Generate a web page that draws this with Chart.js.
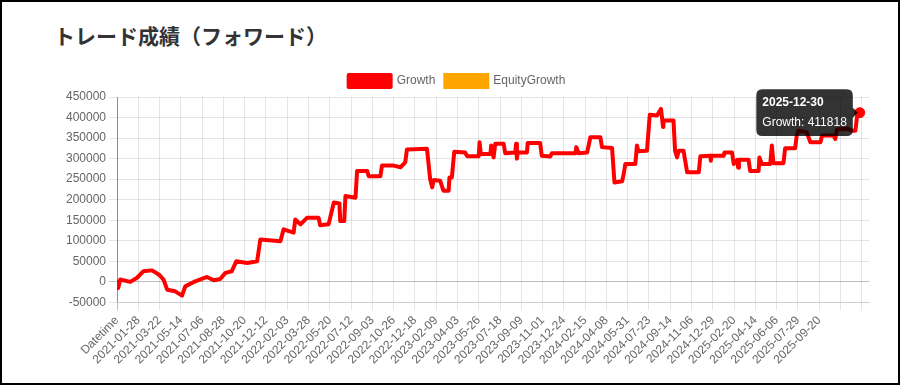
<!DOCTYPE html>
<html lang="ja">
<head>
<meta charset="UTF-8">
<title>トレード成績（フォワード）</title>
<style>
  html, body { margin: 0; padding: 0; background: #fff; }
  .frame {
    position: relative; width: 900px; height: 385px;
    box-sizing: border-box; border: 2px solid #000; overflow: hidden;
  }
  h2 {
    position: absolute; left: 52px; top: 23px; margin: 0;
    font-family: "Noto Sans CJK JP", sans-serif; font-weight: bold;
    font-size: 21px; line-height: 21px; color: #333;
  }
  .chart-box { position: absolute; left: 37px; top: 63px; width: 836px; height: 305px; }
</style>
</head>
<body>
<div class="frame">
  <h2>トレード成績（フォワード）</h2>
  <div class="chart-box"><canvas id="growthChart"></canvas></div>
</div>

<script src="https://cdn.jsdelivr.net/npm/chart.js"></script>
<script>
// x axis: days counted from the 'Datetime' slot (day 0 = 2020-12-06)
const startDate = '2020-12-06';
const tickStep = 53;
const tickLabels = [
  'Datetime', '2021-01-28', '2021-03-22', '2021-05-14', '2021-07-06', '2021-08-28',
  '2021-10-20', '2021-12-12', '2022-02-03', '2022-03-28', '2022-05-20', '2022-07-12',
  '2022-09-03', '2022-10-26', '2022-12-18', '2023-02-09', '2023-04-03', '2023-05-26',
  '2023-07-18', '2023-09-09', '2023-11-01', '2023-12-24', '2024-02-15', '2024-04-08',
  '2024-05-31', '2024-07-23', '2024-09-14', '2024-11-06', '2024-12-29', '2025-02-20',
  '2025-04-14', '2025-06-06', '2025-07-29', '2025-09-20', '', ''
];
const xMax = 1874;

// Growth series (day offset, value)
const growthDays = [
  1, 3, 8, 33, 50, 66, 87, 104, 116, 125, 145, 162, 170, 195, 224, 241, 257, 270, 286, 297,
  324, 349, 357, 407, 415, 440, 444, 457, 473, 502, 506, 527, 540, 554, 556, 566, 569, 594,
  598, 623, 627, 656, 660, 689, 706, 718, 722, 772, 780, 785, 789, 805, 813, 826, 828, 834,
  840, 867, 872, 901, 903, 906, 930, 932, 938, 942, 963, 967, 992, 994, 996, 998, 1021, 1023,
  1054, 1058, 1079, 1083, 1142, 1144, 1150, 1171, 1179, 1204, 1208, 1233, 1239, 1258, 1262,
  1266, 1291, 1295, 1299, 1320, 1327, 1345, 1355, 1360, 1361, 1386, 1390, 1395, 1399, 1411,
  1420, 1449, 1453, 1478, 1479, 1481, 1511, 1513, 1532, 1536, 1545, 1547, 1549, 1573, 1577,
  1598, 1600, 1606, 1627, 1631, 1635, 1660, 1664, 1689, 1693, 1697, 1718, 1727, 1752, 1756,
  1785, 1789, 1793, 1818, 1831, 1839, 1843, 1850
];
const growthValues = [
  0, -15000, 5600, 0, 10000, 26000, 28000, 18000, 5600, -19000, -23000, -33500, -11000, 1500,
  12000, 4000, 7000, 22000, 26000, 50000, 46000, 50000, 103000, 99000, 128000, 120000, 152000,
  140000, 156000, 156000, 138000, 140000, 193000, 191000, 148000, 148000, 209000, 205000,
  270000, 270000, 257000, 257000, 283000, 283000, 279000, 291000, 322000, 324000, 250000,
  230000, 248000, 246000, 222000, 222000, 254000, 254000, 317000, 315000, 306000, 306000,
  340000, 311000, 311000, 332000, 303000, 336000, 336000, 313000, 315000, 336000, 300000,
  315000, 315000, 338000, 338000, 307000, 305000, 313000, 313000, 328000, 313000, 315000,
  352000, 352000, 328000, 326000, 242000, 245000, 262000, 287000, 287000, 332000, 318000,
  319000, 407000, 405000, 421000, 377000, 393000, 393000, 319000, 303000, 319000, 319000,
  267000, 267000, 306000, 307000, 295000, 307000, 307000, 315000, 315000, 287000, 297000,
  278000, 297000, 297000, 270000, 270000, 303000, 287000, 287000, 332000, 289000, 289000,
  325000, 325000, 356000, 368000, 364000, 340000, 340000, 356000, 356000, 348000, 371000,
  373000, 368000, 368000, 401000, 411818
];
const equityValues = [];

function dayToDate(day) {
  const d = new Date(startDate + 'T00:00:00Z');
  d.setUTCDate(d.getUTCDate() + day);
  return d.toISOString().slice(0, 10);
}

Chart.defaults.font.family = "'Liberation Sans', Arial, sans-serif";
Chart.defaults.font.size = 12;
Chart.defaults.color = '#666';

const gridColor = (c) => (c.tick && c.tick.value === 0) ? 'rgba(0,0,0,0.25)' : 'rgba(0,0,0,0.1)';

const ctx = document.getElementById('growthChart').getContext('2d');
const chart = new Chart(ctx, {
  type: 'line',
  data: {
    datasets: [{
      label: 'Growth',
      data: growthDays.map((d, i) => ({ x: d, y: growthValues[i] })),
      borderColor: 'red',
      backgroundColor: 'red',
      borderWidth: 4,
      borderJoinStyle: 'round',
      borderCapStyle: 'round',
      tension: 0,
      pointRadius: 0,
      pointHoverRadius: 5,
      pointHoverBackgroundColor: 'red',
      pointHoverBorderColor: 'red'
    }, {
      label: 'EquityGrowth',
      data: equityValues,
      borderColor: 'orange',
      backgroundColor: 'orange',
      borderWidth: 4,
      pointRadius: 0
    }]
  },
  options: {
    responsive: true,
    maintainAspectRatio: false,
    animation: false,
    interaction: { mode: 'nearest', intersect: false },
    scales: {
      x: {
        type: 'linear',
        min: 0,
        max: xMax,
        afterBuildTicks: (scale) => {
          scale.ticks = tickLabels.map((t, i) => ({ value: i * tickStep }));
        },
        ticks: {
          autoSkip: false,
          minRotation: 45,
          maxRotation: 45,
          callback: (v, i) => tickLabels[i]
        },
        grid: { color: gridColor },
        border: { color: 'rgba(0,0,0,0.1)' }
      },
      y: {
        min: -50000,
        max: 450000,
        afterFit: (scale) => { scale.width = 78; },
        ticks: { stepSize: 50000, callback: (v) => String(v) },
        grid: { color: gridColor },
        border: { color: 'rgba(0,0,0,0.25)' }
      }
    },
    plugins: {
      legend: {
        position: 'top',
        labels: { boxWidth: 42, color: '#666' }
      },
      tooltip: {
        xAlign: 'right',
        yAlign: 'center',
        displayColors: false,
        callbacks: {
          title: (items) => dayToDate(items[0].parsed.x),
          label: (item) => item.dataset.label + ': ' + item.parsed.y
        }
      }
    }
  }
});

// show the tooltip on the last point, as in the screenshot
const last = growthValues.length - 1;
const pt = chart.getDatasetMeta(0).data[last];
chart.setActiveElements([{ datasetIndex: 0, index: last }]);
chart.tooltip.setActiveElements([{ datasetIndex: 0, index: last }], { x: pt.x, y: pt.y });
chart.update();
</script>
</body>
</html>
